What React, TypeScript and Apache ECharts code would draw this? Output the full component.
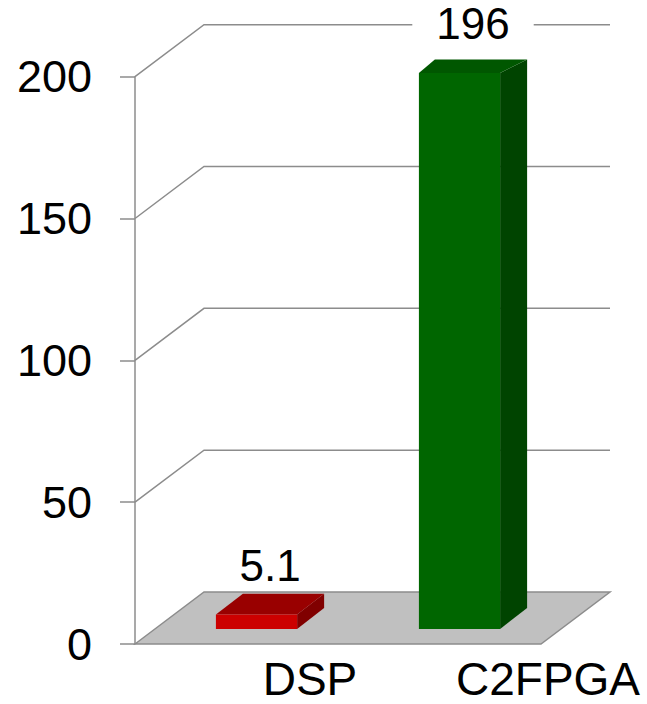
import { useEffect, useRef } from "react";
import * as echarts from "echarts";

// Chart data
const categories = ["DSP", "C2FPGA"];
const values = [5.1, 196];
const yTicks = [0, 50, 100, 150, 200];

// Face colours per bar: front, top, side
const FRONT = ["#CC0000", "#006600"];
const TOP = ["#990000", "#005700"];
const SIDE = ["#800000", "#004400"];

// Oblique projection of the chart box
const DEPTH_X = 69;
const DEPTH_Y = -52;
const BAR_FRONT = 0.29; // depth fraction where the bar front face sits
const BAR_WIDTH = 0.4; // share of category band
const FONT = "'Liberation Sans', Arial, sans-serif";
const LINE = "#8c8c8c";
const CAT_LABEL_SHIFT = [73.5, 108.5];

// bar depth offset, slightly foreshortened toward the top of the plot
const barDy = (y: number) => -(13.4 + (y - 75.7) * 0.0137);
const barDxLeft = (y: number) => 16 + (y - 75.7) * 0.0204;
const BAR_DX_RIGHT = 27;

export default function App() {
  const ref = useRef<HTMLDivElement>(null);

  useEffect(() => {
    if (!ref.current) return;
    const chart = echarts.init(ref.current, undefined, { renderer: "svg" });

    const wallItem = (params: any, api: any) => {
      const cs = params.coordSys;
      const v = api.value(1);
      const y = api.coord([0, v])[1];
      const x0 = cs.x;
      const x1 = cs.x + cs.width;
      if (v === 0) {
        return {
          type: "polygon",
          shape: {
            points: [
              [x0, y],
              [x0 + DEPTH_X, y + DEPTH_Y],
              [x1 + DEPTH_X, y + DEPTH_Y],
              [x1, y],
            ],
          },
          style: { fill: "#C0C0C0", stroke: LINE, lineWidth: 1.5 },
        };
      }
      return {
        type: "polyline",
        shape: {
          points: [
            [x0, y],
            [x0 + DEPTH_X, y + DEPTH_Y],
            [x1 + DEPTH_X, y + DEPTH_Y],
          ],
        },
        style: { fill: null, stroke: LINE, lineWidth: 1.5 },
      };
    };

    const barGeom = (api: any) => {
      const i = api.value(0);
      const v = api.value(1);
      const [cx, y0] = api.coord([i, 0]);
      const yv = api.coord([i, v])[1];
      const w = api.size([1, 0])[0] * BAR_WIDTH;
      const sx = DEPTH_X * BAR_FRONT;
      const sy = DEPTH_Y * BAR_FRONT;
      const xl = cx + sx - w / 2;
      return { i, xl, xr: xl + w, yb: y0 + sy, yt: yv + sy, cx: cx + sx };
    };

    const barItem = (_params: any, api: any) => {
      const { i, xl, xr, yb, yt } = barGeom(api);
      const dyT = barDy(yt);
      const dyB = barDy(yb);
      return {
        type: "group",
        children: [
          {
            type: "polygon",
            shape: {
              points: [
                [xr, yb],
                [xr, yt],
                [xr + BAR_DX_RIGHT, yt + dyT],
                [xr + BAR_DX_RIGHT, yb + dyB],
              ],
            },
            style: { fill: SIDE[i] },
          },
          {
            type: "polygon",
            shape: {
              points: [
                [xl, yt],
                [xr, yt],
                [xr + BAR_DX_RIGHT, yt + dyT],
                [xl + barDxLeft(yt), yt + dyT],
              ],
            },
            style: { fill: TOP[i] },
          },
          {
            type: "rect",
            shape: { x: xl, y: yt, width: xr - xl, height: yb - yt },
            style: { fill: FRONT[i] },
          },
        ],
      };
    };

    const valueLabelItem = (_params: any, api: any) => {
      const { cx, yt } = barGeom(api);
      return {
        type: "text",
        x: cx + 13.5,
        y: yt - 31,
        style: {
          text: String(api.value(1)),
          fontSize: 44,
          lineHeight: 36,
          fontFamily: FONT,
          fill: "#000",
          align: "center",
          verticalAlign: "bottom",
          backgroundColor: "#fff",
          padding: [0, 24],
        },
      };
    };

    const catLabelItem = (_params: any, api: any) => {
      const i = api.value(0);
      const [cx, y0] = api.coord([i, 0]);
      return {
        type: "text",
        x: cx + CAT_LABEL_SHIFT[i],
        y: y0 + 35,
        style: {
          text: categories[i],
          fontSize: 46,
          fontFamily: FONT,
          fill: "#000",
          align: "center",
          verticalAlign: "middle",
        },
      };
    };

    chart.setOption({
      animation: false,
      grid: { left: 135, right: 106, top: 76.7, bottom: 60 },
      xAxis: { type: "category", data: categories, show: false },
      yAxis: {
        type: "value",
        min: 0,
        max: 200,
        interval: 50,
        axisLine: { show: true, lineStyle: { color: LINE, width: 1.5 } },
        axisTick: { show: true, length: 15, lineStyle: { color: LINE, width: 1.5 } },
        splitLine: { show: false },
        axisLabel: { fontSize: 45, color: "#000", margin: 43, fontFamily: FONT },
      },
      series: [
        {
          type: "custom",
          clip: false,
          z: 1,
          renderItem: wallItem,
          data: yTicks.map((v) => [0, v]),
        },
        {
          type: "custom",
          clip: false,
          z: 2,
          renderItem: barItem,
          data: values.map((v, i) => [i, v]),
        },
        {
          type: "custom",
          clip: false,
          z: 3,
          renderItem: valueLabelItem,
          data: values.map((v, i) => [i, v]),
        },
        {
          type: "custom",
          clip: false,
          z: 3,
          renderItem: catLabelItem,
          data: categories.map((_c, i) => [i, 0]),
        },
      ],
    });

    return () => chart.dispose();
  }, []);

  return (
    <div
      ref={ref}
      style={{ position: "fixed", left: 0, top: 0, width: 647, height: 704, background: "#fff" }}
    />
  );
}
